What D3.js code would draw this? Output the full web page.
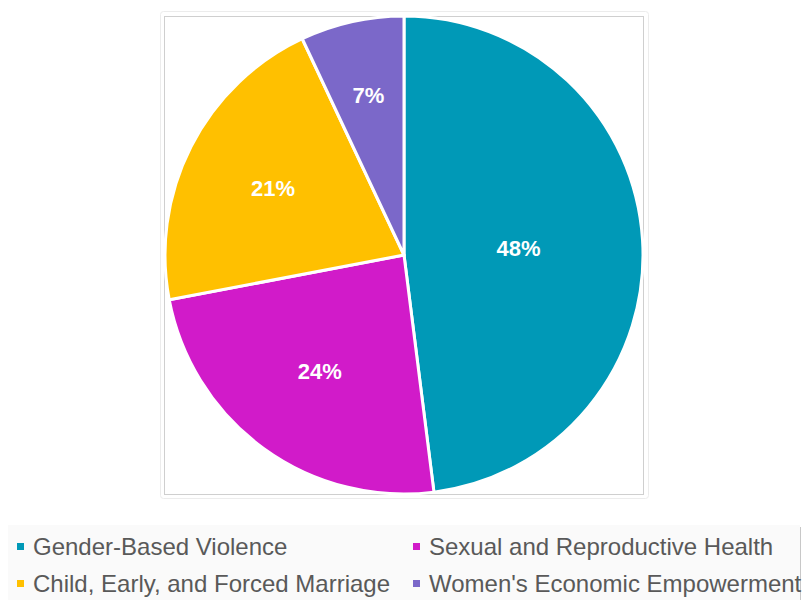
<!DOCTYPE html>
<html>
<head>
<meta charset="utf-8">
<script src="https://cdn.jsdelivr.net/npm/d3@7"></script>
<style>
  body { margin: 0; background: #fff; }
  svg { display: block; font-family: "Liberation Sans", Arial, sans-serif; }
</style>
</head>
<body>
<svg id="chart" width="803" height="600"></svg>
<script>
var categories = [
  'Gender-Based Violence',
  'Sexual and Reproductive Health',
  'Child, Early, and Forced Marriage',
  "Women's Economic Empowerment"
];
var shares = [48, 24, 21, 7];
var colors = ['#0099b7', '#d11bc9', '#ffc000', '#7b68c9'];

var data = categories.map(function(c, i) {
  return { name: c, value: shares[i], color: colors[i] };
});

var svg = d3.select('#chart');
var cx = 404, cy = 255, r = 239;

// faint frame around the plot
svg.append('rect')
  .attr('x', 160.5).attr('y', 11.5).attr('width', 488).attr('height', 487)
  .attr('rx', 3)
  .attr('fill', 'none').attr('stroke', '#ececec');
svg.append('rect')
  .attr('x', 164.5).attr('y', 16.5).attr('width', 479).attr('height', 478)
  .attr('fill', 'none').attr('stroke', '#cfcfcf');

var pie = d3.pie().sort(null).value(function(d) { return d.value; });
var arc = d3.arc().innerRadius(0).outerRadius(r);
var arcs = pie(data);

var g = svg.append('g').attr('transform', 'translate(' + cx + ',' + cy + ')');

g.selectAll('path.slice')
  .data(arcs)
  .enter()
  .append('path')
  .attr('class', 'slice')
  .attr('d', arc)
  .attr('fill', function(d) { return d.data.color; })
  .attr('stroke', '#fff')
  .attr('stroke-width', 3)
  .attr('stroke-linejoin', 'round');

// labels sit further out on the smaller slices
var total = d3.sum(shares);
g.selectAll('text.pct')
  .data(arcs)
  .enter()
  .append('text')
  .attr('class', 'pct')
  .attr('transform', function(d) {
    var f = 0.72 - 0.5 * d.data.value / total;
    var a = (d.startAngle + d.endAngle) / 2;
    return 'translate(' + (Math.sin(a) * r * f) + ',' + (-Math.cos(a) * r * f) + ')';
  })
  .attr('text-anchor', 'middle')
  .attr('dy', '0.36em')
  .attr('fill', '#fff')
  .attr('font-weight', 'bold')
  .attr('font-size', 22)
  .text(function(d) { return d.data.value + '%'; });

// legend
var legend = svg.append('g');
legend.append('rect')
  .attr('x', 8).attr('y', 525).attr('width', 792).attr('height', 75)
  .attr('fill', '#fafafa');
legend.append('line')
  .attr('x1', 800.5).attr('x2', 800.5).attr('y1', 527).attr('y2', 600)
  .attr('stroke', '#c8c8c8');

var items = legend.selectAll('g.item')
  .data(data)
  .enter()
  .append('g')
  .attr('class', 'item')
  .attr('transform', function(d, i) {
    return 'translate(' + (i % 2 === 0 ? 17 : 413) + ',' + (i < 2 ? 546 : 583) + ')';
  });

items.append('rect')
  .attr('x', 0).attr('y', -3).attr('width', 7).attr('height', 7)
  .attr('fill', function(d) { return d.color; });

items.append('text')
  .attr('x', 16)
  .attr('dy', '0.36em')
  .attr('font-size', 24)
  .attr('fill', '#595959')
  .text(function(d) { return d.name; });
</script>
</body>
</html>
